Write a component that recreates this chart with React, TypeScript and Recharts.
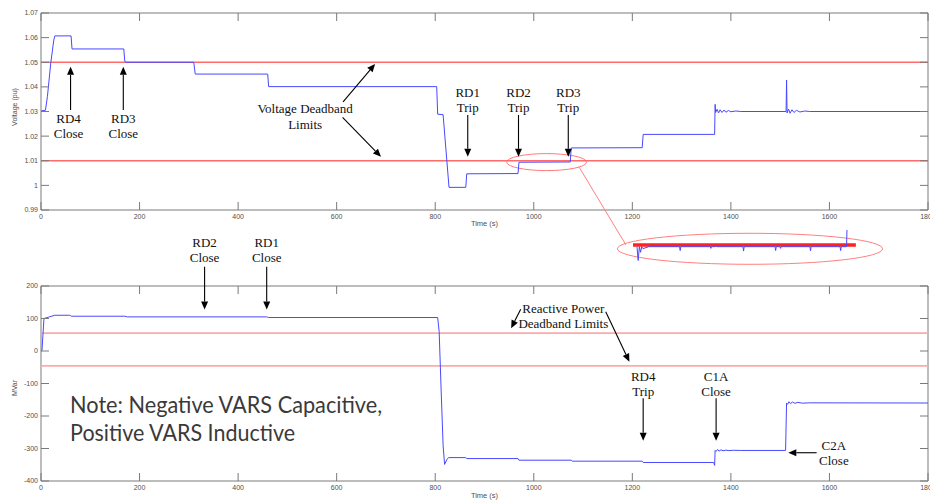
import React from 'react';
import { LineChart, Line, XAxis, YAxis, ReferenceLine, ReferenceDot, ReferenceArea } from 'recharts';

// ---------- data ----------
const timeTicks = [0, 200, 400, 600, 800, 1000, 1200, 1400, 1600, 1800];
const voltTicks = [0.99, 1.0, 1.01, 1.02, 1.03, 1.04, 1.05, 1.06, 1.07];
const varTicks = [-400, -300, -200, -100, 0, 100, 200];

const voltTime = [0, 9, 13, 20, 26, 28, 61, 63, 168, 170, 172, 310, 313, 460, 462, 803, 805, 816, 828, 862, 864, 968, 970, 1074, 1076, 1220, 1222, 1367, 1368, 1369, 1372, 1375, 1378, 1382, 1386, 1390, 1395, 1400, 1410, 1420, 1512, 1513, 1514, 1517, 1520, 1524, 1528, 1533, 1540, 1550, 1560, 1800];
const voltValue = [1.0302, 1.0305, 1.036, 1.05, 1.059, 1.0607, 1.0607, 1.0554, 1.0554, 1.0505, 1.05, 1.05, 1.0452, 1.0452, 1.0401, 1.0401, 1.0289, 1.0287, 0.9992, 0.9992, 1.0047, 1.0048, 1.0094, 1.0095, 1.0152, 1.0153, 1.0207, 1.0207, 1.0329, 1.0296, 1.0309, 1.0294, 1.0307, 1.0296, 1.0306, 1.0297, 1.0304, 1.0299, 1.0302, 1.03, 1.03, 1.0428, 1.0294, 1.031, 1.0293, 1.0307, 1.0296, 1.0305, 1.0298, 1.0302, 1.03, 1.03];

const varTime = [0, 2, 6, 15, 28, 58, 62, 170, 175, 458, 462, 805, 808, 812, 816, 819, 824, 827, 862, 864, 968, 970, 1076, 1078, 1220, 1222, 1365, 1367, 1368, 1370, 1373, 1376, 1380, 1384, 1390, 1396, 1405, 1420, 1511, 1513, 1515, 1518, 1521, 1525, 1530, 1536, 1545, 1560, 1800];
const varValue = [0, 2, 100, 104, 110, 110, 107, 107, 105, 105, 103, 103, 60, -120, -290, -349, -333, -328, -328, -331, -331, -336, -336, -339, -339, -343, -343, -352, -306, -309, -303, -308, -304, -307, -305, -306.5, -305.5, -306, -306, -160, -164, -156, -162, -157, -161, -158, -160.5, -159.5, -160];

const insetTime = [969, 969.6, 970.2, 970.8, 971.4, 972, 975, 990.5, 990.8, 991.1, 1006, 1006.3, 1006.6, 1008.5, 1008.8, 1009.1, 1022.5, 1022.8, 1023.1, 1038.7, 1039, 1039.3, 1041.2, 1041.5, 1041.8, 1056.3, 1056.6, 1056.9, 1071.5, 1071.8, 1072.1, 1074.8, 1075];
const insetValue = [1.0093, 1.0036, 1.0093, 1.007, 1.0093, 1.0085, 1.0093, 1.0093, 1.0077, 1.0093, 1.0093, 1.0086, 1.0093, 1.0093, 1.0097, 1.0093, 1.0093, 1.0075, 1.0093, 1.0093, 1.0077, 1.0093, 1.0093, 1.0086, 1.0093, 1.0093, 1.0076, 1.0093, 1.0093, 1.0077, 1.0093, 1.0093, 1.0162];

const voltLimits = [1.01, 1.05];
const varLimits = [55, -46];

type Note = { x: number; y: number; lines: string[]; gap?: number };
type Arrow = { from: [number, number]; to: [number, number] };

const voltNotes: Note[] = [
  { x: 56, y: 1.0255, lines: ['RD4', 'Close'] },
  { x: 167, y: 1.0255, lines: ['RD3', 'Close'] },
  { x: 536, y: 1.0294, lines: ['Voltage Deadband', 'Limits'], gap: 16 },
  { x: 866, y: 1.036, lines: ['RD1', 'Trip'] },
  { x: 969, y: 1.036, lines: ['RD2', 'Trip'] },
  { x: 1070, y: 1.036, lines: ['RD3', 'Trip'] },
];
const voltArrows: Arrow[] = [
  { from: [60, 1.0306], to: [60, 1.0482] },
  { from: [167, 1.0306], to: [167, 1.0482] },
  { from: [613, 1.0339], to: [678, 1.0493] },
  { from: [612, 1.0276], to: [690, 1.0116] },
  { from: [866, 1.0286], to: [866, 1.0116] },
  { from: [969, 1.0286], to: [969, 1.0116] },
  { from: [1070, 1.0286], to: [1070, 1.0116] },
];

const varNotes: Note[] = [
  { x: 332, y: 321, lines: ['RD2', 'Close'] },
  { x: 458, y: 321, lines: ['RD1', 'Close'] },
  { x: 1060, y: 116, lines: ['Reactive Power', 'Deadband Limits'] },
  { x: 1222, y: -92.5, lines: ['RD4', 'Trip'] },
  { x: 1370, y: -92.5, lines: ['C1A', 'Close'] },
  { x: 1609, y: -304.6, lines: ['C2A', 'Close'] },
];
const varArrows: Arrow[] = [
  { from: [332, 259], to: [332, 128] },
  { from: [458, 259], to: [458, 128] },
  { from: [973.5, 128.3], to: [954, 70] },
  { from: [1146, 121], to: [1194, -33] },
  { from: [1222, -145.5], to: [1222, -276] },
  { from: [1370, -145.5], to: [1370, -276] },
  { from: [1574, -313], to: [1516.5, -313] },
];

const noteLines = ['Note: Negative VARS Capacitive,', 'Positive VARS Inductive'];
const noteAnchor = { x: 59, y: -190 };

// zoom-window annotation (top chart)
const zoomWindow = { x1: 945, x2: 1107, y1: 1.006, y2: 1.0129 };
const zoomConnector = { from: [1091.8, 1.0075] as [number, number], to: [1187, 0.9758] as [number, number] };
const insetEllipse = { x1: 959.1, x2: 1093.0, y1: 1.00204, y2: 1.01482 };
const insetBar = { x1: 967, x2: 1079.5, y: 1.01 };

// ---------- styles ----------
const AXIS = '#7a7a7a';
const TICKTXT = '#505050';
const BLUE = '#4848ff';
const SERIF = '"Liberation Serif", "Times New Roman", serif';
const SANS = '"Liberation Sans", Arial, sans-serif';

const voltData = voltTime.map((t, i) => ({ t, v: voltValue[i] }));
const varData = varTime.map((t, i) => ({ t, v: varValue[i] }));
const insetData = insetTime.map((t, i) => ({ t, v: insetValue[i] }));

const makeXTick = (plotH: number) => (p: any) => {
  const { x, y, payload } = p;
  return (
    <g>
      <line x1={x} x2={x} y1={y} y2={y - 8} stroke={AXIS} strokeWidth={1} />
      <line x1={x} x2={x} y1={y - plotH} y2={y - plotH + 8} stroke={AXIS} strokeWidth={1} />
      <text x={x} y={y + 9} textAnchor="middle" fontSize={7} fill={TICKTXT} fontFamily={SANS}>
        {payload.value}
      </text>
    </g>
  );
};

const makeYTick = (plotW: number, fmt: (v: number) => string) => (p: any) => {
  const { x, y, payload } = p;
  return (
    <g>
      <line x1={x} x2={x + 8} y1={y} y2={y} stroke={AXIS} strokeWidth={1} />
      <line x1={x + plotW} x2={x + plotW - 8} y1={y} y2={y} stroke={AXIS} strokeWidth={1} />
      <text x={x - 3} y={y} dy="0.35em" textAnchor="end" fontSize={7} fill={TICKTXT} fontFamily={SANS}>
        {fmt(payload.value)}
      </text>
    </g>
  );
};

const arrowShape = (p: any) => {
  const { x1, y1, x2, y2 } = p;
  const dx = x2 - x1;
  const dy = y2 - y1;
  const L = Math.hypot(dx, dy) || 1;
  const ux = dx / L;
  const uy = dy / L;
  const hl = 8;
  const hw = 3.5;
  const bx = x2 - ux * hl;
  const by = y2 - uy * hl;
  return (
    <g>
      <line x1={x1} y1={y1} x2={bx} y2={by} stroke="#000" strokeWidth={1.1} />
      <polygon points={`${x2},${y2} ${bx - uy * hw},${by + ux * hw} ${bx + uy * hw},${by - ux * hw}`} fill="#000" />
    </g>
  );
};

const noteShape = (lines: string[], gap: number) => (p: any) => {
  const { cx, cy } = p;
  return (
    <g>
      {lines.map((s, i) => (
        <text key={i} x={cx} y={cy + i * gap} textAnchor="middle" fontSize={13} fontFamily={SERIF} fill="#111">
          {s}
        </text>
      ))}
    </g>
  );
};

const bigNoteShape = (p: any) => {
  const { cx, cy } = p;
  return (
    <g>
      <text x={cx} y={cy} fontSize={23} fontFamily="Lato, 'Open Sans', sans-serif" fill="#3a3a3a" textLength={312} lengthAdjust="spacingAndGlyphs">
        {noteLines[0]}
      </text>
      <text x={cx} y={cy + 28} fontSize={23} fontFamily="Lato, 'Open Sans', sans-serif" fill="#3a3a3a" textLength={225} lengthAdjust="spacingAndGlyphs">
        {noteLines[1]}
      </text>
    </g>
  );
};

const ellipseShape = (stroke: string) => (p: any) => {
  const { x, y, width, height } = p;
  return <ellipse cx={x + width / 2} cy={y + height / 2} rx={Math.abs(width) / 2} ry={Math.abs(height) / 2} fill="none" stroke={stroke} strokeWidth={1} />;
};

const yTitle = (text: string, cx: number, cy: number) => () => (
  <text x={cx} y={cy} dy="0.35em" textAnchor="middle" fontSize={7} fill={TICKTXT} fontFamily={SANS} transform={`rotate(-90 ${cx} ${cy})`}>
    {text}
  </text>
);

const PLOT_W = 887;

export default function App() {
  return (
    <div style={{ position: 'absolute', left: 0, top: 0, width: 930, height: 500, background: '#fff', overflow: 'hidden' }}>
      {/* Voltage chart */}
      <div style={{ position: 'absolute', left: 0, top: 0 }}>
        <LineChart width={930} height={270} data={voltData} margin={{ top: 13, right: 2, bottom: 30, left: 0 }}>
          <XAxis
            dataKey="t"
            type="number"
            domain={[0, 1800]}
            ticks={timeTicks}
            interval={0}
            height={30}
            tickSize={0}
            tickMargin={0}
            tickLine={false}
            axisLine={false}
            tick={makeXTick(197)}
            label={{ value: 'Time (s)', position: 'insideTop', offset: 11, fontSize: 7.5, fill: TICKTXT, fontFamily: SANS }}
          />
          <YAxis
            type="number"
            domain={[0.99, 1.07]}
            ticks={voltTicks}
            interval={0}
            width={41}
            tickSize={0}
            tickMargin={0}
            tickLine={false}
            axisLine={false}
            tick={makeYTick(PLOT_W, (v) => (Math.abs(v - 1) < 1e-9 ? '1' : v.toFixed(2)))}
            label={yTitle('Voltage (pu)', 15, 107)}
          />
          <ReferenceArea x1={0} x2={1800} y1={0.99} y2={1.07} fill="none" fillOpacity={0} stroke={AXIS} strokeWidth={1} />
          {voltLimits.map((v) => (
            <ReferenceLine key={v} y={v} stroke="#ff6a6a" strokeWidth={1.3} />
          ))}
          <Line dataKey="v" type="linear" stroke={BLUE} strokeWidth={1} dot={false} isAnimationActive={false} />
          <ReferenceArea x1={zoomWindow.x1} x2={zoomWindow.x2} y1={zoomWindow.y1} y2={zoomWindow.y2} shape={ellipseShape('#ff7a7a')} />
          <ReferenceLine
            segment={[{ x: zoomConnector.from[0], y: zoomConnector.from[1] }, { x: zoomConnector.to[0], y: zoomConnector.to[1] }]}
            ifOverflow="visible"
            stroke="#ff8080"
            strokeWidth={1}
          />
          {voltArrows.map((a, i) => (
            <ReferenceLine key={'va' + i} segment={[{ x: a.from[0], y: a.from[1] }, { x: a.to[0], y: a.to[1] }]} ifOverflow="visible" shape={arrowShape} />
          ))}
          {voltNotes.map((n, i) => (
            <ReferenceDot key={'vn' + i} x={n.x} y={n.y} r={1} ifOverflow="visible" shape={noteShape(n.lines, n.gap ?? 15)} />
          ))}
        </LineChart>
      </div>

      {/* Reactive power chart */}
      <div style={{ position: 'absolute', left: 0, top: 230 }}>
        <LineChart width={930} height={270} data={varData} margin={{ top: 56, right: 2, bottom: 0, left: 0 }}>
          <XAxis
            dataKey="t"
            type="number"
            domain={[0, 1800]}
            ticks={timeTicks}
            interval={0}
            height={19}
            tickSize={0}
            tickMargin={0}
            tickLine={false}
            axisLine={false}
            tick={makeXTick(195)}
            label={{ value: 'Time (s)', position: 'insideTop', offset: 12, fontSize: 7.5, fill: TICKTXT, fontFamily: SANS }}
          />
          <YAxis
            type="number"
            domain={[-400, 200]}
            ticks={varTicks}
            interval={0}
            width={41}
            tickSize={0}
            tickMargin={0}
            tickLine={false}
            axisLine={false}
            tick={makeYTick(PLOT_W, (v) => String(v))}
            label={yTitle('MVar', 15, 158)}
          />
          <ReferenceArea x1={0} x2={1800} y1={-400} y2={200} fill="none" fillOpacity={0} stroke={AXIS} strokeWidth={1} />
          {varLimits.map((v) => (
            <ReferenceLine key={v} y={v} stroke="#ffaaaa" strokeWidth={1.8} />
          ))}
          <Line dataKey="v" type="linear" stroke={BLUE} strokeWidth={1} dot={false} isAnimationActive={false} />
          {varArrows.map((a, i) => (
            <ReferenceLine key={'ra' + i} segment={[{ x: a.from[0], y: a.from[1] }, { x: a.to[0], y: a.to[1] }]} ifOverflow="visible" shape={arrowShape} />
          ))}
          {varNotes.map((n, i) => (
            <ReferenceDot key={'rn' + i} x={n.x} y={n.y} r={1} ifOverflow="visible" shape={noteShape(n.lines, n.gap ?? 15)} />
          ))}
          <ReferenceDot x={noteAnchor.x} y={noteAnchor.y} r={1} ifOverflow="visible" shape={bigNoteShape} />
        </LineChart>
      </div>

      {/* zoomed inset */}
      <div style={{ position: 'absolute', left: 615, top: 228 }}>
        <LineChart width={270} height={38} data={insetData} margin={{ top: 0, right: 0, bottom: 0, left: 0 }}>
          <XAxis dataKey="t" type="number" domain={[957.9, 1094.2]} hide height={0} />
          <YAxis type="number" domain={[1.00134, 1.017]} hide width={0} />
          <ReferenceArea x1={insetEllipse.x1} x2={insetEllipse.x2} y1={insetEllipse.y1} y2={insetEllipse.y2} ifOverflow="visible" shape={ellipseShape('#ff8080')} />
          <ReferenceLine segment={[{ x: insetBar.x1, y: insetBar.y }, { x: insetBar.x2, y: insetBar.y }]} stroke="#ff2020" strokeWidth={3.5} />
          <Line dataKey="v" type="linear" stroke={BLUE} strokeWidth={1} dot={false} isAnimationActive={false} />
        </LineChart>
      </div>
    </div>
  );
}
